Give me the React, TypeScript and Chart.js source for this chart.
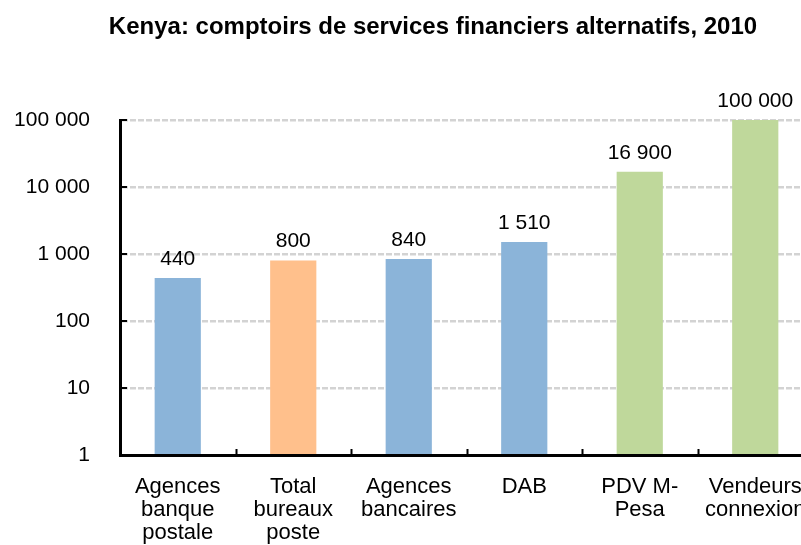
import React, { useEffect, useRef } from "react";
import { Chart, registerables } from "chart.js";

Chart.register(...registerables);

const TITLE = "Kenya: comptoirs de services financiers alternatifs, 2010";
const categories: string[][] = [
  ["Agences", "banque", "postale"],
  ["Total", "bureaux", "poste"],
  ["Agences", "bancaires"],
  ["DAB"],
  ["PDV M-", "Pesa"],
  ["Vendeurs", "connexion"],
];
const values: number[] = [440, 800, 840, 1510, 16900, 100000];
const barColors: string[] = ["#8BB4D9", "#FFC08C", "#8BB4D9", "#8BB4D9", "#BFD89B", "#BFD89B"];
const yTicks: number[] = [1, 10, 100, 1000, 10000, 100000];

const FONT = "'Liberation Sans', Arial, sans-serif";
const fmt = (v: number) => String(v).replace(/\B(?=(\d{3})+(?!\d))/g, " ");

const extras = {
  id: "extras",
  afterDraw(chart: any) {
    const { ctx, chartArea, scales } = chart;
    const x = scales.x;
    const y = scales.y;
    ctx.save();
    // title
    ctx.font = `bold 24px ${FONT}`;
    ctx.fillStyle = "#000";
    ctx.textAlign = "center";
    ctx.textBaseline = "alphabetic";
    ctx.fillText(TITLE, 433, 34);
    // inner ticks
    ctx.strokeStyle = "#000";
    ctx.lineWidth = 2;
    ctx.beginPath();
    for (let i = 0; i < categories.length; i++) {
      const p = i < categories.length - 1
        ? (x.getPixelForValue(i) + x.getPixelForValue(i + 1)) / 2
        : chartArea.right;
      ctx.moveTo(Math.round(p) + 0.5, chartArea.bottom);
      ctx.lineTo(Math.round(p) + 0.5, chartArea.bottom - 6);
    }
    yTicks.forEach((v) => {
      const p = Math.round(y.getPixelForValue(v));
      ctx.moveTo(chartArea.left, p);
      ctx.lineTo(chartArea.left + 7, p);
    });
    ctx.stroke();
    // data labels
    ctx.font = `21px ${FONT}`;
    ctx.textAlign = "center";
    ctx.textBaseline = "alphabetic";
    const meta = chart.getDatasetMeta(0);
    meta.data.forEach((bar: any, i: number) => {
      ctx.fillText(fmt(values[i]), bar.x, bar.y - 13);
    });
    ctx.restore();
  },
};

export default function App() {
  const ref = useRef<HTMLCanvasElement>(null);
  useEffect(() => {
    if (!ref.current) return;
    const chart = new Chart(ref.current, {
      type: "bar",
      data: {
        labels: categories,
        datasets: [
          {
            data: values,
            backgroundColor: barColors,
            borderWidth: 0,
            barPercentage: 0.4,
            categoryPercentage: 1,
          },
        ],
      },
      options: {
        animation: false,
        responsive: false,
        devicePixelRatio: 1,
        layout: { padding: { left: 0, right: 53, top: 120, bottom: 0 } },
        plugins: { legend: { display: false }, title: { display: false }, tooltip: { enabled: false } },
        scales: {
          x: {
            grid: { display: false },
            border: { display: true, color: "#000", width: 3, z: 1 },
            ticks: {
              color: "#000",
              font: { family: FONT, size: 22, lineHeight: 1.05 },
              padding: 12,
              maxRotation: 0,
              autoSkip: false,
            },
            afterFit: (s: any) => { s.height = 90; },
          },
          y: {
            type: "logarithmic",
            min: 1,
            max: 100000,
            afterBuildTicks: (s: any) => { s.ticks = yTicks.map((v) => ({ value: v })); },
            grid: { color: "#D3D3D3", lineWidth: 2.5, drawTicks: false },
            border: { display: true, color: "#000", width: 3, dash: [6, 2], z: 1 },
            ticks: {
              color: "#000",
              font: { family: FONT, size: 21 },
              padding: 30,
              callback: (v: any) => fmt(Number(v)),
            },
            afterFit: (s: any) => { s.width = 120; },
          },
        },
      },
      plugins: [extras],
    });
    return () => chart.destroy();
  }, []);
  return (
    <div style={{ position: "fixed", left: 0, top: 0, width: 801, height: 545, overflow: "hidden", background: "#fff" }}>
      <canvas ref={ref} width={866} height={545} style={{ display: "block" }} />
    </div>
  );
}
